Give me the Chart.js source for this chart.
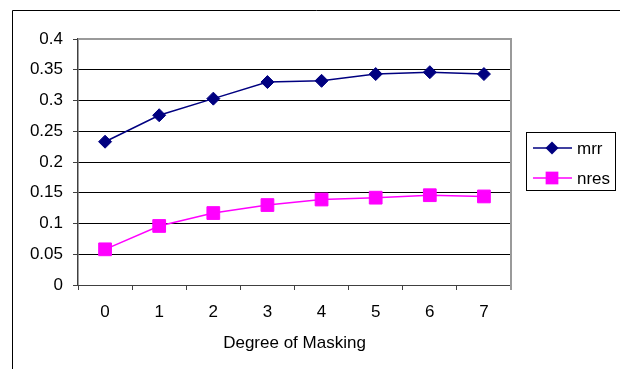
<!DOCTYPE html>
<html>
<head>
<meta charset="utf-8">
<script src="https://cdn.jsdelivr.net/npm/chart.js@4/dist/chart.umd.min.js"></script>
<style>
  html, body { margin: 0; padding: 0; background: #fff; }
  #wrap { width: 620px; height: 369px; position: relative; }
</style>
</head>
<body>
<div id="wrap"><canvas id="c" width="620" height="369"></canvas></div>
<script>
// Masking degrees on the x axis
const degrees = ['0', '1', '2', '3', '4', '5', '6', '7'];
// Series values
const mrr = [0.233, 0.276, 0.303, 0.330, 0.332, 0.343, 0.346, 0.343];
const nres = [0.058, 0.096, 0.117, 0.130, 0.139, 0.142, 0.146, 0.144];
// Value axis labels
const yTicks = ['0', '0.05', '0.1', '0.15', '0.2', '0.25', '0.3', '0.35', '0.4'];

const FONT = "'Liberation Sans', Arial, sans-serif";
const AREA = { left: 78, top: 39, right: 511, bottom: 285 };

// Outer frame, plot border and legend box
const decor = {
  id: 'decor',
  beforeDraw(chart) {
    const ctx = chart.ctx;
    ctx.save();
    ctx.fillStyle = '#fff';
    ctx.fillRect(0, 0, chart.width, chart.height);
    ctx.strokeStyle = '#000';
    ctx.lineWidth = 1;
    ctx.beginPath();
    ctx.moveTo(12.5, chart.height);
    ctx.lineTo(12.5, 10.5);
    ctx.lineTo(chart.width, 10.5);
    ctx.stroke();
    ctx.restore();
  },
  afterDatasetsDraw(chart) {
    const ctx = chart.ctx;
    const a = chart.chartArea;
    ctx.save();
    ctx.strokeStyle = '#9a9a9a';
    ctx.lineWidth = 2;
    ctx.beginPath();
    ctx.moveTo(a.left, a.top);
    ctx.lineTo(a.right, a.top);
    ctx.lineTo(a.right, a.bottom + 5);
    ctx.stroke();
    ctx.restore();
  },
  afterDraw(chart) {
    const ctx = chart.ctx;
    ctx.save();
    ctx.strokeStyle = '#000';
    ctx.lineWidth = 1;
    ctx.strokeRect(526.5, 132.5, 89, 58);
    const rows = [148, 178];
    chart.data.datasets.forEach((ds, i) => {
      const y = rows[i];
      ctx.strokeStyle = ds.borderColor;
      ctx.lineWidth = ds.borderWidth;
      ctx.beginPath();
      ctx.moveTo(533, y);
      ctx.lineTo(572, y);
      ctx.stroke();
      ctx.fillStyle = ds.pointBackgroundColor;
      ctx.beginPath();
      if (ds.pointStyle === 'rectRot') {
        const r = ds.pointRadius;
        ctx.moveTo(552 - r, y);
        ctx.lineTo(552, y - r);
        ctx.lineTo(552 + r, y);
        ctx.lineTo(552, y + r);
      } else {
        const h = ds.pointRadius * Math.SQRT1_2;
        ctx.rect(552 - h, y - h, 2 * h, 2 * h);
      }
      ctx.closePath();
      ctx.fill();
      ctx.fillStyle = '#000';
      ctx.font = '17px ' + FONT;
      ctx.textBaseline = 'middle';
      ctx.textAlign = 'left';
      ctx.fillText(ds.label, 577, y + 1);
    });
    ctx.restore();
  }
};

new Chart(document.getElementById('c'), {
  type: 'line',
  data: {
    labels: degrees,
    datasets: [
      {
        label: 'mrr',
        data: mrr,
        borderColor: '#000080',
        backgroundColor: '#000080',
        pointBackgroundColor: '#000080',
        pointBorderColor: '#000080',
        borderWidth: 1.5,
        pointStyle: 'rectRot',
        pointRadius: 6.5,
        pointBorderWidth: 1,
        tension: 0
      },
      {
        label: 'nres',
        data: nres,
        borderColor: '#ff00ff',
        backgroundColor: '#ff00ff',
        pointBackgroundColor: '#ff00ff',
        pointBorderColor: '#ff00ff',
        borderWidth: 1.5,
        pointStyle: 'rect',
        pointRadius: 9,
        pointBorderWidth: 1,
        tension: 0
      }
    ]
  },
  options: {
    responsive: false,
    animation: false,
    devicePixelRatio: 1,
    layout: { padding: { left: 0, top: AREA.top, right: 620 - AREA.right, bottom: 0 } },
    plugins: { legend: { display: false }, tooltip: { enabled: false } },
    scales: {
      x: {
        offset: true,
        grid: {
          offset: true,
          drawOnChartArea: false,
          tickLength: 5,
          tickColor: '#404040',
          lineWidth: 1
        },
        border: { color: '#404040', width: 1 },
        ticks: {
          color: '#000',
          font: { family: FONT, size: 17 },
          padding: 12,
          maxRotation: 0
        },
        title: {
          display: true,
          text: 'Degree of Masking',
          color: '#000',
          font: { family: FONT, size: 17 },
          padding: { top: 8, bottom: 15 }
        },
        afterFit(scale) { scale.height = 369 - AREA.bottom; }
      },
      y: {
        min: 0,
        max: 0.4,
        ticks: {
          stepSize: 0.05,
          color: '#000',
          font: { family: FONT, size: 17 },
          padding: 10,
          callback: (v, i) => yTicks[i]
        },
        grid: {
          color: (c) => (c.tick && Math.abs(c.tick.value - 0.4) < 1e-9) ? '#9a9a9a' : '#000',
          lineWidth: 1,
          tickLength: 5,
          tickColor: '#404040'
        },
        border: { color: '#404040', width: 1.5 },
        afterFit(scale) { scale.width = AREA.left; }
      }
    }
  },
  plugins: [decor]
});
</script>
</body>
</html>
